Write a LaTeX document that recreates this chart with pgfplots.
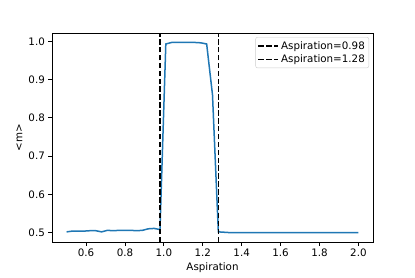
\documentclass[border=0pt]{standalone}
\usepackage{fontspec}
\setmainfont{DejaVu Sans}
\usepackage{pgfplots}
\pgfplotsset{compat=1.18}
\definecolor{mplblue}{HTML}{1F77B4}
\begin{document}
\fontsize{10.3}{12}\selectfont
\begin{tikzpicture}
\path[use as bounding box] (0,0) rectangle (415pt,277pt);
\begin{axis}[
  at={(52pt,35pt)}, anchor=south west,
  scale only axis, width=321pt, height=209pt,
  xmin=0.425, xmax=2.075, ymin=0.4755, ymax=1.0217,
  xtick={0.6,0.8,1.0,1.2,1.4,1.6,1.8,2.0},
  ytick={0.5,0.6,0.7,0.8,0.9,1.0},
  xticklabel style={/pgf/number format/fixed,/pgf/number format/fixed zerofill,/pgf/number format/precision=1},
  yticklabel style={/pgf/number format/fixed,/pgf/number format/fixed zerofill,/pgf/number format/precision=1},
  /pgf/number format/assume math mode=true,
  tick align=outside, tick pos=left,
  major tick length=3.5pt,
  every tick/.style={black, line width=0.8pt},
  axis line style={black, line width=0.8pt},
  tick label style={font=\fontsize{10.3}{12}\selectfont},
  label style={font=\fontsize{10.3}{12}\selectfont},
  xlabel={Aspiration}, ylabel={<m>},
  xlabel style={yshift=1pt},
  ylabel style={yshift=-1pt},
  legend style={at={(rel axis cs:1,1)}, anchor=north east, xshift=-4pt, yshift=-4pt,
    draw=black!20, rounded corners=2pt, font=\fontsize{10.3}{12}\selectfont,
    inner sep=2pt, row sep=0pt},
  legend cell align=left,
  legend image code/.code={\draw[#1, line width=1.5pt, dash pattern=on 5.5pt off 2.4pt] (0pt,0pt) -- (20pt,0pt);},
]
\addplot[mplblue, line width=1.5pt, forget plot] coordinates {
(0.50,0.502) (0.53,0.504) (0.56,0.504) (0.59,0.504) (0.62,0.505) (0.65,0.505)
(0.68,0.502) (0.71,0.506) (0.74,0.505) (0.77,0.506) (0.80,0.506) (0.83,0.506)
(0.86,0.505) (0.89,0.506) (0.92,0.510) (0.95,0.511) (0.98,0.508) (1.01,0.993)
(1.04,0.997) (1.07,0.997) (1.10,0.997) (1.13,0.997) (1.16,0.997) (1.19,0.996)
(1.22,0.993) (1.25,0.860) (1.28,0.502) (1.31,0.501) (1.34,0.500) (1.37,0.500)
(1.40,0.500) (1.43,0.500) (1.46,0.500) (1.49,0.500) (1.52,0.500) (1.55,0.500)
(1.58,0.500) (1.61,0.500) (1.64,0.500) (1.67,0.500) (1.70,0.500) (1.73,0.500)
(1.76,0.500) (1.79,0.500) (1.82,0.500) (1.85,0.500) (1.88,0.500) (1.91,0.500)
(1.94,0.500) (1.97,0.500) (2.00,0.500)
};
\addplot[black, line width=1.5pt, dash pattern=on 5.5pt off 2.4pt] coordinates {(0.98,0.4755) (0.98,1.0217)};
\addlegendentry{Aspiration=0.98}
\addplot[black, line width=1.5pt, dash pattern=on 5.5pt off 2.4pt] coordinates {(1.28,0.4755) (1.28,1.0217)};
\addlegendentry{Aspiration=1.28}
\end{axis}
\end{tikzpicture}
\end{document}
